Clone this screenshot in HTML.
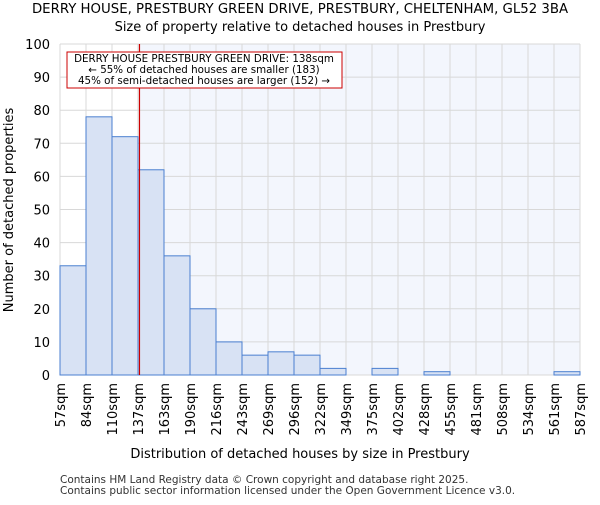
<!DOCTYPE html>
<html><head><meta charset="utf-8"><style>
body{margin:0;background:#fff;}
svg{font-family:"DejaVu Sans","Liberation Sans",sans-serif;}
</style></head><body>
<svg id="chart" width="600" height="500" viewBox="0 0 600 500">
<text x="300" y="13" text-anchor="middle" font-size="13.3">DERRY HOUSE, PRESTBURY GREEN DRIVE, PRESTBURY, CHELTENHAM, GL52 3BA</text>
<text x="300" y="31" text-anchor="middle" font-size="13">Size of property relative to detached houses in Prestbury</text>
<g id="plot"></g>
<text x="300" y="458" text-anchor="middle" font-size="13">Distribution of detached houses by size in Prestbury</text>
<text transform="translate(13,210) rotate(-90)" text-anchor="middle" font-size="13">Number of detached properties</text>
<text x="60" y="483" font-size="10.5" fill="#333">Contains HM Land Registry data © Crown copyright and database right 2025.</text>
<text x="60" y="494" font-size="10.5" fill="#333">Contains public sector information licensed under the Open Government Licence v3.0.</text>
</svg>
<script>
const categories=["57sqm","84sqm","110sqm","137sqm","163sqm","190sqm","216sqm","243sqm","269sqm","296sqm","322sqm","349sqm","375sqm","402sqm","428sqm","455sqm","481sqm","508sqm","534sqm","561sqm","587sqm"];
const values=[33,78,72,62,36,20,10,6,7,6,2,0,2,0,1,0,0,0,0,1];
const yTicks=[0,10,20,30,40,50,60,70,80,90,100];
const markerValue=138;
const NS="http://www.w3.org/2000/svg";
const L=60,R=580,T=44,B=375,yMax=100;
const n=values.length,bw=(R-L)/n;
const binStart=57,binW=(587-57)/n;
function xs(i){return L+i*bw;}
function xv(v){return L+(v-binStart)/binW*bw;}
function ys(v){return B-v/yMax*(B-T);}
const g=document.getElementById('plot');
function mk(t,a){const e=document.createElementNS(NS,t);for(const k in a)e.setAttribute(k,a[k]);g.appendChild(e);return e;}
const mx=xv(markerValue);
let e=mk('rect',{x:mx,y:T,width:R-mx,height:B-T,fill:'#f3f6fd'});


for(let i=0;i<=n;i++){e=mk('line',{x1:xs(i),x2:xs(i),y1:T,y2:B,stroke:'#d8d8d8','stroke-width':1});

}
yTicks.forEach(t=>{e=mk('line',{x1:L,x2:R,y1:ys(t),y2:ys(t),stroke:'#d8d8d8','stroke-width':1});


e=mk('text',{x:L-10,y:ys(t)+5,'text-anchor':'end','font-size':13});e.textContent=t;

});
values.forEach((v,i)=>{if(v<=0)return;e=mk('rect',{x:xs(i),y:ys(v),width:bw,height:B-ys(v),fill:'#d8e2f4',stroke:'#4a7fd0','stroke-width':1});

});
categories.forEach((c,i)=>{e=mk('text',{transform:`translate(${xs(i)+5},${B+8}) rotate(-90)`,'text-anchor':'end','font-size':13});e.textContent=c;

});
e=mk('line',{x1:mx,x2:mx,y1:T,y2:B,stroke:'#c00','stroke-width':1.2});


e=mk('rect',{x:67,y:52,width:275,height:36,fill:'#fff',stroke:'#c00','stroke-width':1});


["DERRY HOUSE PRESTBURY GREEN DRIVE: 138sqm","← 55% of detached houses are smaller (183)","45% of semi-detached houses are larger (152) →"].forEach((s,i)=>{e=mk('text',{x:204,y:62+i*11,'text-anchor':'middle','font-size':10.3});e.textContent=s;

});
</script>
</body></html>
